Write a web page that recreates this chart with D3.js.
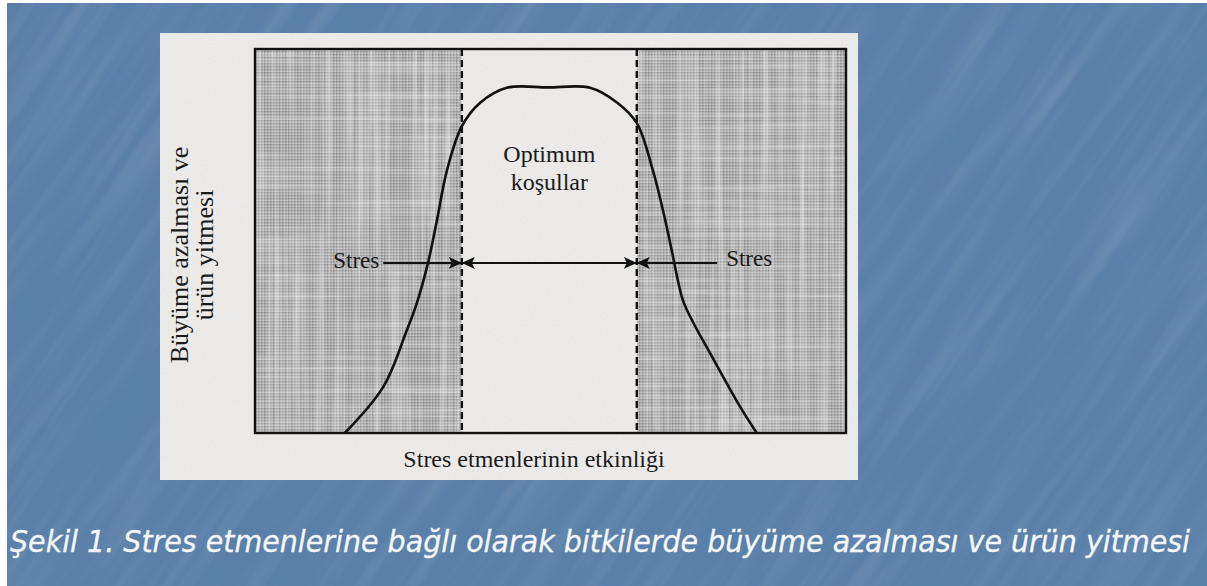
<!DOCTYPE html>
<html>
<head>
<meta charset="utf-8">
<script src="https://cdn.jsdelivr.net/npm/d3@7/dist/d3.min.js"></script>
<style>
  html, body { margin: 0; padding: 0; background: #ffffff; }
  svg { display: block; }
</style>
</head>
<body>
<svg id="chart" width="1207" height="586"></svg>
<script>
// Stress intensity (x) vs growth / yield (y), both on a 0–100 relative scale
const stressLevel = [15.2, 21.7, 25.7, 27.4, 29.3, 30.8, 32.5, 35.0, 38.1, 42.6, 49.6, 56.7, 61.3, 64.6, 67.3, 69.4, 70.6, 72.4, 74.1, 77.0, 82.1, 84.9];
const growthLevel = [0, 12.0, 26.8, 33.9, 44.5, 55.5, 68.5, 79.9, 86.0, 89.9, 90.0, 89.9, 86.0, 80.7, 68.5, 55.5, 46.9, 34.6, 28.9, 20.8, 6.8, 0];

// Boundaries of the optimum zone on the stress axis
const optimumRange = [35.0, 64.6];
const axisDomain = [0, 100];

// Texts
const yLabelLines = ["Büyüme azalması ve", "ürün yitmesi"];
const xLabel = "Stres etmenlerinin etkinliği";
const optimumLines = ["Optimum", "koşullar"];
const stressLabel = "Stres";
const caption = "Şekil 1. Stres etmenlerine bağlı olarak bitkilerde büyüme azalması ve ürün yitmesi";

const svg = d3.select("#chart");
const W = 1207, H = 586;

const defs = svg.append("defs");

// Slide background streaks
const bgF = defs.append("filter").attr("id", "bgGrain").attr("x", 0).attr("y", 0).attr("width", 1).attr("height", 1);
bgF.append("feTurbulence").attr("type", "fractalNoise").attr("baseFrequency", "0.004 0.06").attr("numOctaves", 3).attr("seed", 4).attr("result", "n");
bgF.append("feColorMatrix").attr("in", "n").attr("type", "matrix")
  .attr("values", "0 0 0 0 1  0 0 0 0 1  0 0 0 0 1  1.2 0 0 0 -0.5");
const bgD = defs.append("filter").attr("id", "bgDark").attr("x", 0).attr("y", 0).attr("width", 1).attr("height", 1);
bgD.append("feTurbulence").attr("type", "fractalNoise").attr("baseFrequency", "0.01 0.03").attr("numOctaves", 2).attr("seed", 9).attr("result", "n");
bgD.append("feColorMatrix").attr("in", "n").attr("type", "matrix")
  .attr("values", "0 0 0 0 0.2  0 0 0 0 0.3  0 0 0 0 0.45  -1.2 0 0 0 0.55");

// Paper grain
const pF = defs.append("filter").attr("id", "paperGrain").attr("x", 0).attr("y", 0).attr("width", 1).attr("height", 1);
pF.append("feTurbulence").attr("type", "fractalNoise").attr("baseFrequency", "0.6").attr("numOctaves", 1).attr("seed", 2).attr("result", "n");
pF.append("feColorMatrix").attr("in", "n").attr("type", "matrix")
  .attr("values", "0 0 0 0 0.4  0 0 0 0 0.4  0 0 0 0 0.4  0.5 0 0 0 -0.2");

// Halftone screen for shaded stress zones
const pat = defs.append("pattern").attr("id", "halftone").attr("patternUnits", "userSpaceOnUse")
  .attr("width", 3).attr("height", 3);
pat.append("rect").attr("width", 3).attr("height", 3).attr("fill", "#acacac");
pat.append("rect").attr("x", 0).attr("y", 0).attr("width", 1.5).attr("height", 1.5).attr("fill", "#888888");
pat.append("rect").attr("x", 1.5).attr("y", 1.5).attr("width", 1.5).attr("height", 1.5).attr("fill", "#c6c6c6");

// Vertical / horizontal streaks of the screen
const vF = defs.append("filter").attr("id", "vStreak").attr("x", 0).attr("y", 0).attr("width", 1).attr("height", 1);
vF.append("feTurbulence").attr("type", "fractalNoise").attr("baseFrequency", "0.16 0.004").attr("numOctaves", 2).attr("seed", 7).attr("result", "n");
vF.append("feColorMatrix").attr("in", "n").attr("type", "matrix")
  .attr("values", "0 0 0 0 1  0 0 0 0 1  0 0 0 0 1  1.8 0 0 0 -0.75");
const hF = defs.append("filter").attr("id", "hStreak").attr("x", 0).attr("y", 0).attr("width", 1).attr("height", 1);
hF.append("feTurbulence").attr("type", "fractalNoise").attr("baseFrequency", "0.006 0.18").attr("numOctaves", 2).attr("seed", 11).attr("result", "n");
hF.append("feColorMatrix").attr("in", "n").attr("type", "matrix")
  .attr("values", "0 0 0 0 1  0 0 0 0 1  0 0 0 0 1  1.6 0 0 0 -0.72");

// Arrow heads
function arrowMarker(id, pointing) {
  const m = defs.append("marker").attr("id", id)
    .attr("markerUnits", "userSpaceOnUse")
    .attr("viewBox", "0 0 13 12").attr("markerWidth", 13).attr("markerHeight", 12)
    .attr("refX", pointing === "end" ? 13 : 0).attr("refY", 6).attr("orient", "auto");
  m.append("path").attr("d", pointing === "end" ? "M0,0 L13,6 L0,12 L3,6 Z" : "M13,0 L0,6 L13,12 L10,6 Z").attr("fill", "#111");
}
arrowMarker("headEnd", "end");
arrowMarker("headStart", "start");

// Slide background
svg.append("rect").attr("width", W).attr("height", H).attr("fill", "#ffffff");
svg.append("rect").attr("x", 7).attr("y", 3).attr("width", W - 7).attr("height", H - 3).attr("fill", "#5a7fa9");
const bgClip = defs.append("clipPath").attr("id", "bgClip");
bgClip.append("rect").attr("x", 7).attr("y", 3).attr("width", W - 7).attr("height", H - 3);
const bgTex = svg.append("g").attr("clip-path", "url(#bgClip)")
  .append("g").attr("transform", `translate(${W / 2},${H / 2}) rotate(-55)`);
bgTex.append("rect").attr("x", -800).attr("y", -800).attr("width", 1600).attr("height", 1600)
  .attr("filter", "url(#bgDark)").attr("opacity", 0.35);
bgTex.append("rect").attr("x", -800).attr("y", -800).attr("width", 1600).attr("height", 1600)
  .attr("filter", "url(#bgGrain)").attr("opacity", 0.16);

// Scanned figure paper
const paper = { x: 160, y: 33, w: 698, h: 447 };
svg.append("rect").attr("x", paper.x).attr("y", paper.y).attr("width", paper.w).attr("height", paper.h).attr("fill", "#ecebea");
svg.append("rect").attr("x", paper.x).attr("y", paper.y).attr("width", paper.w).attr("height", paper.h)
  .attr("filter", "url(#paperGrain)").attr("opacity", 0.35);

// Plot frame
const plot = { left: 255, right: 846, top: 49, bottom: 433 };
const x = d3.scaleLinear().domain(axisDomain).range([plot.left, plot.right]);
const y = d3.scaleLinear().domain(axisDomain).range([plot.bottom, plot.top]);

// Shaded stress zones
const zones = [[axisDomain[0], optimumRange[0]], [optimumRange[1], axisDomain[1]]];
const zoneG = svg.append("g");
zones.forEach((z, i) => {
  const zx = x(z[0]), zw = x(z[1]) - x(z[0]), zy = y(axisDomain[1]), zh = y(axisDomain[0]) - y(axisDomain[1]);
  const cp = defs.append("clipPath").attr("id", "zone" + i);
  cp.append("rect").attr("x", zx).attr("y", zy).attr("width", zw).attr("height", zh);
  const g = zoneG.append("g").attr("clip-path", `url(#zone${i})`);
  g.append("rect").attr("x", zx).attr("y", zy).attr("width", zw).attr("height", zh).attr("fill", "url(#halftone)");
  g.append("rect").attr("x", zx).attr("y", zy).attr("width", zw).attr("height", zh)
    .attr("filter", "url(#vStreak)").attr("opacity", 0.6);
  g.append("rect").attr("x", zx).attr("y", zy).attr("width", zw).attr("height", zh)
    .attr("filter", "url(#hStreak)").attr("opacity", 0.45);
});

// Dashed optimum boundaries
svg.append("g").selectAll("line").data(optimumRange).join("line")
  .attr("x1", d => x(d)).attr("x2", d => x(d))
  .attr("y1", y(axisDomain[1])).attr("y2", y(axisDomain[0]))
  .attr("stroke", "#111").attr("stroke-width", 2.4).attr("stroke-dasharray", "7,4");

// Frame
svg.append("rect").attr("x", plot.left).attr("y", plot.top)
  .attr("width", plot.right - plot.left).attr("height", plot.bottom - plot.top)
  .attr("fill", "none").attr("stroke", "#111").attr("stroke-width", 2.4);

// Response curve
const pts = stressLevel.map((s, i) => [s, growthLevel[i]]);
const line = d3.line().x(d => x(d[0])).y(d => y(d[1])).curve(d3.curveCatmullRom.alpha(0.5));
svg.append("path").datum(pts).attr("d", line)
  .attr("fill", "none").attr("stroke", "#111").attr("stroke-width", 2.6).attr("stroke-linejoin", "round");

// Stress arrows
const arrowLevel = 44.3;
const stressLabelPos = [21.7, 78.2];
const ay = y(arrowLevel);
svg.append("line").attr("x1", x(stressLabelPos[0])).attr("x2", x(optimumRange[0]))
  .attr("y1", ay).attr("y2", ay).attr("stroke", "#111").attr("stroke-width", 2)
  .attr("marker-end", "url(#headEnd)");
svg.append("line").attr("x1", x(optimumRange[0])).attr("x2", x(optimumRange[1]))
  .attr("y1", ay).attr("y2", ay).attr("stroke", "#111").attr("stroke-width", 2)
  .attr("marker-start", "url(#headStart)").attr("marker-end", "url(#headEnd)");
svg.append("line").attr("x1", x(stressLabelPos[1])).attr("x2", x(optimumRange[1]))
  .attr("y1", ay).attr("y2", ay).attr("stroke", "#111").attr("stroke-width", 2)
  .attr("marker-end", "url(#headEnd)");

const serif = "'Liberation Serif', 'Times New Roman', serif";
svg.append("text").attr("x", x(stressLabelPos[0]) - 4).attr("y", ay + 5)
  .attr("text-anchor", "end").attr("font-family", serif).attr("font-size", 23).attr("fill", "#1a1a1a").text(stressLabel);
svg.append("text").attr("x", x(stressLabelPos[1]) + 9).attr("y", ay + 3)
  .attr("text-anchor", "start").attr("font-family", serif).attr("font-size", 23).attr("fill", "#1a1a1a").text(stressLabel);

// Optimum label
const midX = x((optimumRange[0] + optimumRange[1]) / 2);
svg.append("g").selectAll("text").data(optimumLines).join("text")
  .attr("x", midX).attr("y", (d, i) => 162 + i * 28)
  .attr("text-anchor", "middle").attr("font-family", serif).attr("font-size", 24).attr("fill", "#1a1a1a")
  .text(d => d);

// Axis titles
svg.append("text").attr("x", 534).attr("y", 467)
  .attr("text-anchor", "middle").attr("font-family", serif).attr("font-size", 24).attr("fill", "#1a1a1a").text(xLabel);
svg.append("g").selectAll("text").data(yLabelLines).join("text")
  .attr("transform", (d, i) => `translate(${188 + i * 25},255) rotate(-90)`)
  .attr("text-anchor", "middle").attr("font-family", serif).attr("font-size", 26).attr("fill", "#1a1a1a")
  .text(d => d);

// Caption
svg.append("text").attr("x", 600).attr("y", 552).attr("text-anchor", "middle")
  .attr("font-family", "'DejaVu Sans Condensed', 'DejaVu Sans', sans-serif").attr("font-stretch", "condensed")
  .attr("font-style", "italic")
  .attr("font-size", 30).attr("fill", "#f4f7fb").attr("stroke", "#f4f7fb").attr("stroke-width", 0.3)
  .attr("textLength", 1180).attr("lengthAdjust", "spacingAndGlyphs")
  .text(caption);
</script>
</body>
</html>
